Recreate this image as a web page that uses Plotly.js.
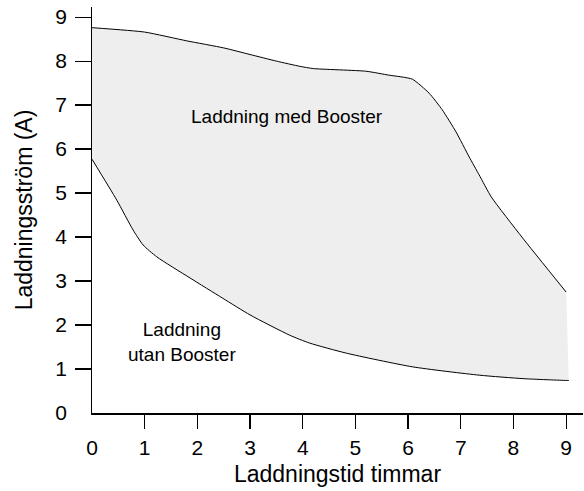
<!DOCTYPE html>
<html><head><meta charset="utf-8">
<script src="https://cdn.plot.ly/plotly-3.0.1.min.js"></script>
<style>html,body{margin:0;padding:0;background:#fff}#chart{width:584px;height:491px}</style>
</head><body><div id="chart"></div>
<script>
// Data
var boosterHours = [0, 1, 1.8, 2.5, 3, 3.5, 3.95, 4.2, 5.2, 5.64, 6.08, 6.4, 6.65, 6.91, 7.16, 7.35, 7.58, 8.16, 9];
var boosterCurrent = [8.76, 8.66, 8.46, 8.3, 8.15, 8.0, 7.88, 7.83, 7.77, 7.68, 7.59, 7.27, 6.89, 6.39, 5.82, 5.41, 4.91, 4.0, 2.75];
var plainHours = [0, 0.47, 0.78, 0.97, 1.23, 1.86, 2.48, 3.0, 3.75, 4.13, 4.83, 6.08, 7.35, 8.2, 9, 9.05];
var plainCurrent = [5.77, 4.84, 4.16, 3.82, 3.55, 3.07, 2.61, 2.23, 1.77, 1.59, 1.36, 1.05, 0.86, 0.78, 0.74, 0.74];
var tickValues = [0, 1, 2, 3, 4, 5, 6, 7, 8, 9];
var tickMarks = [1, 2, 3, 4, 5, 6, 7, 8, 9];
var labelWith = "Laddning med Booster";
var labelWithout = "Laddning<br>utan Booster";
var xTitle = "Laddningstid timmar";
var yTitle = "Laddningsström (A)";

var font = "Liberation Sans, Arial, sans-serif";
var xr = [0, 9.32], yr = [0, 9.23];

var traces = [
  {x: plainHours, y: plainCurrent, mode: "lines", line: {color: "#000", width: 1, shape: "spline", smoothing: 0.6}, hoverinfo: "skip"},
  {x: boosterHours, y: boosterCurrent, mode: "lines", fill: "tonexty", fillcolor: "#eeeeee",
   line: {color: "#000", width: 1, shape: "spline", smoothing: 0.5}, hoverinfo: "skip"},
  {x: [0, 9], y: [0, 9], xaxis: "x2", yaxis: "y2", mode: "markers", marker: {opacity: 0}, hoverinfo: "skip"}
];

var layout = {
  width: 584, height: 491,
  margin: {l: 92, r: 1, t: 7, b: 78},
  paper_bgcolor: "#fff", plot_bgcolor: "rgba(0,0,0,0)",
  showlegend: false,
  font: {family: font, size: 21, color: "#000"},
  xaxis: {range: xr, tickvals: tickMarks, ticks: "outside", ticklen: 14, tickwidth: 1.2, tickcolor: "#000",
          showticklabels: false, showline: true, linecolor: "#000", linewidth: 1.5, showgrid: false, zeroline: false, fixedrange: true},
  yaxis: {range: yr, tickvals: tickMarks, ticks: "outside", ticklen: 16, tickwidth: 1.2, tickcolor: "#000",
          showticklabels: false, showline: true, linecolor: "#000", linewidth: 1.5, showgrid: false, zeroline: false, fixedrange: true},
  xaxis2: {overlaying: "x", anchor: "y", side: "bottom", range: xr, tickvals: tickValues, ticks: "", showline: false,
           showgrid: false, zeroline: false, ticklabelstandoff: 20, tickfont: {size: 21},
           title: {text: xTitle, font: {size: 23}, standoff: 7}},
  yaxis2: {overlaying: "y", anchor: "x", side: "left", range: yr, tickvals: tickValues, ticks: "", showline: false,
           showgrid: false, zeroline: false, ticklabelstandoff: 24, tickfont: {size: 21},
           title: {text: yTitle, font: {size: 23}, standoff: 16}},
  annotations: [
    {x: 3.71, y: 6.73, xref: "x", yref: "y", text: labelWith, showarrow: false, font: {size: 19}},
    {x: 1.70, y: 1.61, xref: "x", yref: "y", text: labelWithout, showarrow: false, font: {size: 19}}
  ]
};

Plotly.newPlot("chart", traces, layout, {staticPlot: true});
</script></body></html>
